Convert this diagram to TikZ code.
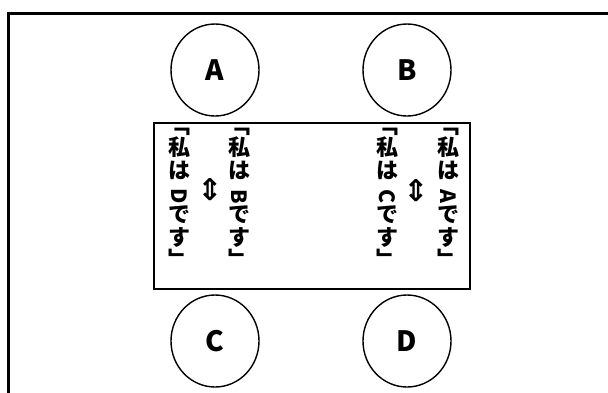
\documentclass[tikz,border=0pt]{standalone}
\usepackage{fontspec}
\setmainfont{Noto Sans CJK JP}
\newfontfamily\symfont{DejaVu Sans}
\usetikzlibrary{shapes.geometric}

\tikzset{
  seat/.style={ellipse, draw, line width=1.4pt, minimum width=88pt,
    minimum height=92pt, inner sep=0pt,
    font=\fontsize{28}{28}\selectfont\bfseries},
  tablebox/.style={draw, line width=2pt},
  frameline/.style={draw, line width=2.8pt},
  vchar/.style={inner sep=0pt, text height=0.88em, text depth=0.12em,
    font=\fontsize{22}{22}\selectfont\bfseries},
  vlatin/.style={inner sep=0pt, rotate=-90,
    font=\fontsize{21}{21}\selectfont\bfseries},
  swaparrow/.style={inner sep=0pt,
    font=\fontsize{30}{30}\selectfont\symfont\bfseries},
}

% one vertical line of speech: node prefix, x position, name letter
\newcommand\saycolumn[3]{%
  \node[vchar]  (#1-1) at (#2,129.7) {﹁};
  \node[vchar]  (#1-2) at (#2,152.0) {私};
  \node[vchar]  (#1-3) at (#2,174.3) {は};
  \node[vlatin] (#1-4) at (#2,196.6) {#3};
  \node[vchar]  (#1-5) at (#2,218.9) {で};
  \node[vchar]  (#1-6) at (#2,241.2) {す};
  \node[vchar]  (#1-7) at (#2,263.5) {﹂};
}

\begin{document}
\begin{tikzpicture}[x=1pt, y=-1pt]
  \useasboundingbox (0,0) rectangle (608,392);
  \clip (0,0) rectangle (608,392);

  % outer frame, running off the right and bottom edges
  \draw[frameline] (8.7,13.5) rectangle (640,420);

  % table
  \node[tablebox, minimum width=316pt, minimum height=165.4pt, inner sep=0pt]
    (table) at (311.5,206) {};

  % seats
  \node[seat] (A) at (215,70)  {A};
  \node[seat] (B) at (407,70)  {B};
  \node[seat] (C) at (215,341) {C};
  \node[seat] (D) at (407,341) {D};

  % exchanged self-introductions
  \saycolumn{sayB}{239}{B}
  \saycolumn{sayD}{179}{D}
  \node[swaparrow] (swapL) at (210,190) {⇕};

  \saycolumn{sayA}{448}{A}
  \saycolumn{sayC}{387.5}{C}
  \node[swaparrow] (swapR) at (416,191) {⇕};
\end{tikzpicture}
\end{document}
